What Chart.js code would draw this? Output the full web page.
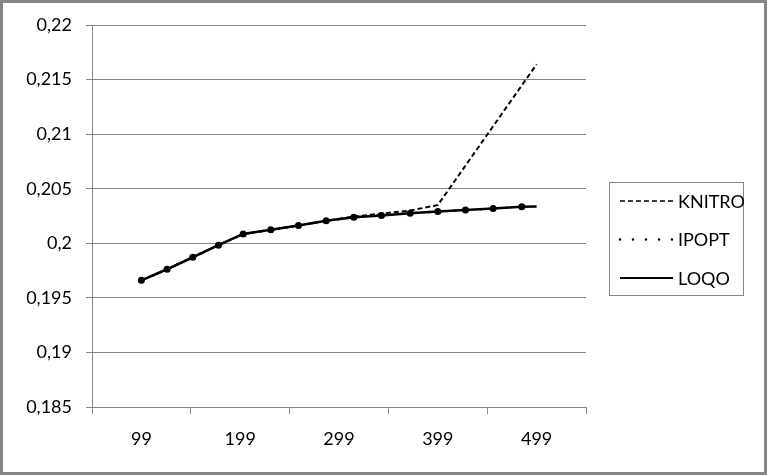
<!DOCTYPE html>
<html>
<head>
<meta charset="utf-8">
<script src="https://cdn.jsdelivr.net/npm/chart.js@4/dist/chart.umd.min.js"></script>
<style>
  html, body { margin: 0; padding: 0; background: #fff; }
  canvas { display: block; }
</style>
</head>
<body>
<canvas id="chart" width="767" height="476"></canvas>
<script>
// problem size (N)
const nValues = [149, 175, 201, 227, 252, 280, 308, 336, 364, 392, 421, 449, 477, 505, 534, 549];

const knitro = [0.19661, 0.19762, 0.19872, 0.19983, 0.20086, 0.20123, 0.20163, 0.20206,
                0.20245, 0.20272, 0.20300, 0.20350, null, null, null, 0.21640];
const ipopt  = [0.19661, 0.19762, 0.19872, 0.19983, 0.20086, 0.20123, 0.20163, 0.20206,
                0.20239, 0.20255, 0.20276, 0.20292, 0.20304, 0.20319, 0.20334, null];
const loqo   = [0.19661, 0.19762, 0.19872, 0.19983, 0.20086, 0.20123, 0.20163, 0.20206,
                0.20239, 0.20255, 0.20276, 0.20292, 0.20304, 0.20319, 0.20334, 0.20338];

const xLabels = ['99', '199', '299', '399', '499'];
const xMin = 99, xMax = 599;
const yMin = 0.185, yMax = 0.22, yStep = 0.005;

const gray = '#868686';
const fontFamily = 'Lato, "Liberation Sans", sans-serif';
const font = { family: fontFamily, size: 18 };

function toPoints(series) {
    return nValues.map((n, i) => ({ x: n, y: series[i] }));
}

// legend with line samples in a bordered box, plus the outer chart frame
const frameAndLegend = {
    id: 'frameAndLegend',
    afterDraw(chart) {
        const ctx = chart.ctx;
        ctx.save();
        ctx.strokeStyle = gray;
        ctx.lineWidth = 3;
        ctx.strokeRect(1.5, 1.5, 764, 472);

        ctx.lineWidth = 1;
        ctx.strokeRect(609.5, 182.5, 134, 113);

        ctx.font = `${font.size}px ${fontFamily}`;
        ctx.textBaseline = 'middle';
        ctx.fillStyle = '#000';
        chart.data.datasets.forEach((ds, i) => {
            const y = 201 + i * 38.5;
            ctx.save();
            ctx.strokeStyle = '#000';
            ctx.lineWidth = ds.legendWidth;
            ctx.lineCap = ds.borderCapStyle || 'butt';
            ctx.setLineDash(ds.borderDash || []);
            ctx.beginPath();
            ctx.moveTo(620, y);
            ctx.lineTo(673, y);
            ctx.stroke();
            ctx.restore();
            ctx.fillText(ds.label, 678, y + 1);
        });
        ctx.restore();
    }
};

new Chart(document.getElementById('chart').getContext('2d'), {
    type: 'line',
    data: {
        datasets: [
            {
                label: 'KNITRO',
                data: toPoints(knitro),
                borderColor: '#000',
                borderWidth: 2,
                borderDash: [5, 3],
                legendWidth: 1.5,
                pointRadius: 0,
                spanGaps: true,
                tension: 0,
                order: 2
            },
            {
                label: 'IPOPT',
                data: toPoints(ipopt),
                borderColor: '#000',
                borderWidth: 2.5,
                borderDash: [0, 13],
                borderCapStyle: 'round',
                legendWidth: 2.5,
                pointRadius: 3.5,
                pointBackgroundColor: '#000',
                pointBorderWidth: 0,
                tension: 0,
                order: 0
            },
            {
                label: 'LOQO',
                data: toPoints(loqo),
                borderColor: '#000',
                borderWidth: 2.5,
                legendWidth: 2,
                pointRadius: 0,
                tension: 0,
                order: 1
            }
        ]
    },
    options: {
        responsive: false,
        animation: false,
        layout: { padding: { left: 0, right: 181, top: 25, bottom: 0 } },
        plugins: {
            legend: { display: false },
            tooltip: { enabled: false }
        },
        scales: {
            x: { type: 'linear', min: xMin, max: xMax, display: false },
            xl: {
                type: 'category',
                labels: xLabels,
                position: 'bottom',
                offset: true,
                grid: { offset: true, drawOnChartArea: false, tickLength: 7, color: gray },
                border: { color: gray },
                ticks: { color: '#000', font: font, padding: 14, maxRotation: 0, autoSkip: false },
                afterFit: s => { s.height = 69; }
            },
            y: {
                min: yMin,
                max: yMax,
                grid: { color: gray, tickLength: 6 },
                border: { color: gray },
                ticks: {
                    stepSize: yStep,
                    color: '#000',
                    font: font,
                    padding: 14,
                    callback: v => parseFloat(v.toFixed(3)).toString().replace('.', ',')
                },
                afterFit: s => { s.width = 92; }
            }
        }
    },
    plugins: [frameAndLegend]
});
</script>
</body>
</html>
